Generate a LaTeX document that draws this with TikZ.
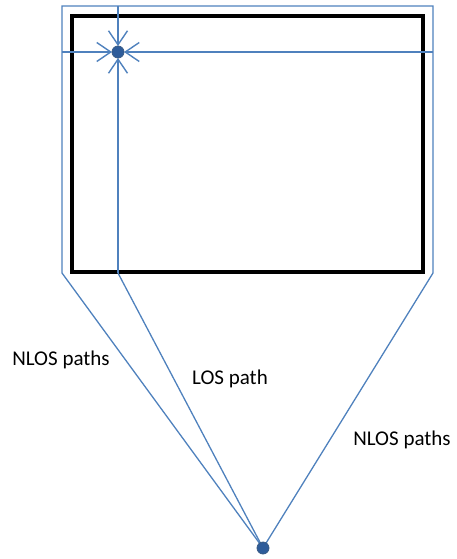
\documentclass[tikz,border=0pt]{standalone}
\usepackage{fontspec}
\setmainfont{Carlito}
\usetikzlibrary{arrows.meta}
\definecolor{pathblue}{HTML}{4F81BD}
\definecolor{dotblue}{HTML}{2E5C9A}
\tikzset{
  ray/.style={draw=pathblue, line width=1.3pt},
  arr/.style={ray, -{Straight Barb[length=14pt, width=19pt, line width=1.4pt]}},
  wall/.style={draw=black, line width=4pt},
  dot/.style={circle, fill=dotblue, draw=pathblue!70!black, line width=0.8pt, minimum size=12pt, inner sep=0pt},
  lbl/.style={font=\fontsize{21}{24}\selectfont, inner sep=0pt}
}
\begin{document}
\begin{tikzpicture}[x=1pt, y=-1pt]
\useasboundingbox (0,0) rectangle (456,559);
\draw[wall] (72,16) rectangle (423,272);
\coordinate (rx) at (118,52);
\coordinate (tx) at (263,548);
\coordinate (bl) at (62,273);
\coordinate (br) at (433,273);
\coordinate (bm) at (118,273);
\coordinate (tl) at (62,6);
\coordinate (tr) at (433,6);
\coordinate (tm) at (118,6);
\coordinate (ml) at (62,52);
\coordinate (mr) at (433,52);
\draw[ray] (tx) -- (bl) -- (tl) -- (tr) -- (br) -- (tx);
\draw[ray] (tx) -- (bm);
\draw[arr] (bm) -- ([yshift=-6pt]rx);
\draw[arr] (tm) -- ([yshift=6pt]rx);
\draw[arr] (ml) -- ([xshift=-6pt]rx);
\draw[arr] (mr) -- ([xshift=6pt]rx);
\node[dot] (rcv) at (rx) {};
\node[dot] (src) at (tx) {};
\node[lbl] (l1) at (61,360) {NLOS paths};
\node[lbl] (l2) at (230,379) {LOS path};
\node[lbl] (l3) at (402,440) {NLOS paths};
\end{tikzpicture}
\end{document}
